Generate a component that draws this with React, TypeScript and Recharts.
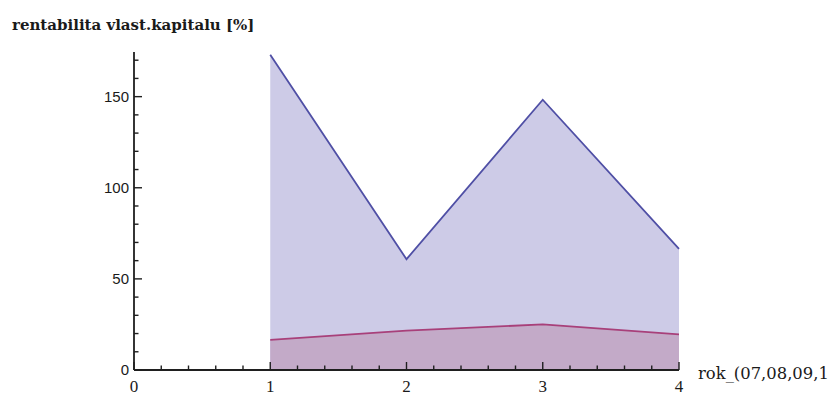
import React from "react";
import { ComposedChart, Area, XAxis, YAxis } from "recharts";

const years = [1, 2, 3, 4];
const upperSeries = [173, 60.8, 148.3, 66.5];
const lowerSeries = [16.5, 21.6, 25, 19.5];
const xTicks = [0, 0.2, 0.4, 0.6, 0.8, 1, 1.2, 1.4, 1.6, 1.8, 2, 2.2, 2.4, 2.6, 2.8, 3, 3.2, 3.4, 3.6, 3.8, 4];
const yTicks = [0, 10, 20, 30, 40, 50, 60, 70, 80, 90, 100, 110, 120, 130, 140, 150, 160, 170];

const data = years.map((x, i) => ({ x, upper: upperSeries[i], lower: lowerSeries[i] }));

const AXIS = "#1f1f1f";

const isInt = (v: number) => Math.abs(v - Math.round(v)) < 1e-6;

function YTick(props: any) {
  const { x, y, payload } = props;
  const v = payload.value;
  const major = v % 50 === 0;
  return (
    <g>
      <line x1={x} x2={x + (major ? 8 : 4.5)} y1={y} y2={y} stroke={AXIS} strokeWidth={1.4} />
      {major && (
        <text x={x - 5} y={y} dy={5.3} textAnchor="end" fontFamily="Liberation Sans" fontSize={15} fill="#1a1a1a">
          {v}
        </text>
      )}
    </g>
  );
}

function XTick(props: any) {
  const { x, y, payload } = props;
  const v = payload.value;
  const major = isInt(v);
  return (
    <g>
      <line x1={x} x2={x} y1={y} y2={y - (major ? 8 : 4.5)} stroke={AXIS} strokeWidth={1.4} />
      {major && (
        <text x={x} y={y} dy={21.5} textAnchor="middle" fontFamily="Liberation Serif" fontSize={17} fill="#1a1a1a">
          {Math.round(v)}
        </text>
      )}
    </g>
  );
}

export default function App() {
  return (
    <div style={{ position: "absolute", left: 0, top: 0, width: 834, height: 394, background: "#fff" }}>
      <ComposedChart width={834} height={394} data={data} margin={{ top: 52, right: 155, bottom: 4, left: 0 }}>
        <XAxis
          dataKey="x"
          type="number"
          domain={[0, 4]}
          ticks={xTicks}
          interval={0}
          height={20}
          tickSize={0}
          tickMargin={0}
          tickLine={false}
          tick={<XTick />}
          axisLine={{ stroke: AXIS, strokeWidth: 1.8 }}
        />
        <YAxis
          type="number"
          domain={[0, 174.5]}
          ticks={yTicks}
          interval={0}
          width={134}
          tickSize={0}
          tickMargin={0}
          tickLine={false}
          tick={<YTick />}
          axisLine={{ stroke: AXIS, strokeWidth: 1.8 }}
        />
        <Area
          type="linear"
          dataKey="upper"
          stroke="#4f4fa5"
          strokeWidth={1.8}
          fill="#cdcbe7"
          fillOpacity={1}
          isAnimationActive={false}
        />
        <Area
          type="linear"
          dataKey="lower"
          stroke="#a8407a"
          strokeWidth={1.8}
          fill="#c3aac8"
          fillOpacity={1}
          isAnimationActive={false}
        />
      </ComposedChart>
      <svg width={834} height={394} style={{ position: "absolute", left: 0, top: 0, pointerEvents: "none" }}>
        <text x={12} y={30} fontFamily="DejaVu Serif" fontWeight="bold" fontSize={15} fill="#1a1a1a">
          rentabilita vlast.kapitalu [%]
        </text>
        <text x={698} y={379} fontFamily="DejaVu Serif" fontSize={16.4} fill="#1a1a1a">
          rok_(07,08,09,1
        </text>
      </svg>
    </div>
  );
}
